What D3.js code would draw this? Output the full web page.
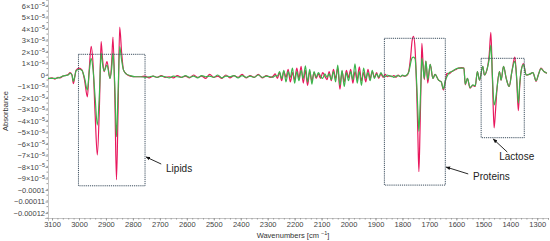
<!DOCTYPE html>
<html>
<head>
<meta charset="utf-8">
<script src="https://cdn.jsdelivr.net/npm/d3@7"></script>
<style>
  body { margin: 0; background: #fff; }
  svg { display: block; font-family: "Liberation Sans", Arial, sans-serif; }
</style>
</head>
<body>
<div id="chart"></div>
<script>
// absorbance values are in units of 1e-5
const wnLipids = [3115, 3100, 3089, 3078, 3070, 3060, 3052, 3040, 3033, 3026, 3021, 3016, 3011, 3000, 2989, 2979, 2969, 2962, 2955, 2948, 2940, 2932, 2924, 2918, 2913, 2907, 2896, 2885, 2879, 2874, 2867, 2861, 2855, 2849, 2842, 2835, 2825, 2810, 2790];
const redLipids = [-0.35, -0.25, -0.35, -0.2, -0.25, -0.1, -0.05, 0.05, 0.2, 0.0, -0.75, -0.2, 0.4, 0.6, 0.45, -0.5, -1.9, 0.5, 2.5, 1.0, -3.5, -6.95, -2.5, 2.9, 1.5, 0.3, 1.17, -0.3, 1.0, 3.3, -2.0, -9.1, -3.0, 4.16, 2.0, 0.45, 0.1, -0.1, -0.15];
const greenLipids = [-0.3, -0.3, -0.3, -0.25, -0.2, -0.1, -0.05, 0.0, 0.15, 0.0, -0.55, -0.15, 0.35, 0.5, 0.4, -0.3, -1.3, 0.3, 1.45, 0.5, -2.0, -4.35, -1.5, 1.9, 1.0, 0.35, 0.87, -0.3, 0.5, 1.9, -1.0, -5.36, -1.5, 2.48, 1.3, 0.45, 0.1, -0.05, -0.15];

const wnFlat = [2770, 2755, 2740, 2725, 2710, 2695, 2680, 2665, 2650, 2635, 2620, 2605, 2590, 2575, 2560, 2545, 2530, 2515, 2500, 2485, 2470, 2455, 2440, 2425, 2410, 2395, 2380, 2365, 2350, 2335, 2320, 2305, 2290];
const redFlat = [-0.15, -0.1, -0.25, -0.1, -0.2, -0.05, -0.2, -0.15, -0.25, -0.05, -0.2, -0.1, -0.25, 0.0, -0.2, -0.1, -0.3, 0.05, -0.2, -0.1, -0.3, 0.0, -0.25, -0.05, -0.2, 0.05, -0.25, -0.05, -0.2, 0.05, -0.25, -0.05, -0.2];
const greenFlat = [-0.15, -0.2, -0.15, -0.1, -0.2, -0.1, -0.15, -0.25, -0.1, -0.15, -0.2, -0.05, -0.2, -0.1, -0.25, -0.05, -0.15, -0.1, -0.2, 0.0, -0.25, -0.1, -0.15, -0.05, -0.25, -0.05, -0.2, -0.1, -0.2, 0.0, -0.2, -0.1, -0.15];

const wnNoise = [2280, 2272, 2264, 2256, 2248, 2240, 2232, 2224, 2216, 2208, 2200, 2192, 2184, 2176, 2168, 2160, 2152, 2144, 2136, 2128, 2120, 2112, 2104, 2096, 2088, 2080, 2072, 2064, 2056, 2048, 2040, 2032, 2024, 2016, 2008, 2000, 1992, 1984, 1976, 1968, 1960, 1952, 1944, 1936, 1928, 1920, 1912, 1904, 1896, 1888, 1880, 1872, 1864, 1856, 1848];
const redNoise = [-0.1, 0.1, -0.3, 0.2, -0.5, 0.3, -0.2, 0.5, -0.6, 0.2, -0.4, 0.6, -0.3, 0.75, -0.7, 0.4, -0.9, 0.3, -0.5, 0.2, -0.3, 0.1, -0.3, 0.2, -0.1, -0.4, 0.3, -0.5, 0.5, -0.3, 0.6, -1.23, 0.3, -0.6, 0.4, -0.2, 0.5, -0.7, 0.3, -0.4, 0.7, -0.5, 0.2, -0.6, 0.5, -0.3, 0.3, -0.2, 0.2, -0.3, 0.1, -0.2, 0.05, -0.15, -0.05];
const greenNoise = [-0.2, -0.05, -0.1, 0.3, -0.3, 0.4, -0.6, 0.3, -0.2, 0.6, -0.7, 0.3, -0.5, 0.4, -0.3, 0.8, -0.6, 0.5, -0.8, 0.3, -0.2, 0.2, -0.1, -0.3, 0.1, -0.2, 0.1, -0.4, 0.3, -0.6, 0.87, -0.9, 0.4, -1.0, 0.2, -0.5, 0.3, -0.4, 0.98, -0.7, 0.3, -0.9, 0.6, -0.3, 0.2, -0.5, 0.4, -0.3, 0.1, -0.2, 0.2, -0.1, -0.15, 0.0, -0.1];

const wnProteins = [1840, 1832, 1824, 1816, 1808, 1800, 1792, 1782, 1776, 1770, 1764, 1759, 1753, 1747, 1743, 1739, 1735, 1731, 1728, 1724, 1719, 1713, 1706, 1697, 1687, 1679, 1666, 1656, 1648, 1641, 1635, 1627, 1617, 1604, 1592, 1580];
const redProteins = [-0.15, -0.05, -0.2, 0.0, -0.15, -0.05, -0.1, 0.0, 0.4, 1.5, 3.0, 3.35, 2.2, -1.5, -5.0, -8.4, -5.0, -0.5, 2.75, 1.2, -0.4, 1.2, -0.7, 0.93, -0.3, 0.05, -0.45, -0.6, -1.3, -0.6, 0.15, 0.1, 0.3, 0.45, 0.6, 0.65];
const greenProteins = [-0.1, -0.2, -0.1, -0.05, -0.15, 0.0, -0.1, 0.05, 0.3, 1.0, 1.5, 1.55, 1.4, -0.8, -3.0, -4.9, -3.0, -0.3, 1.45, 0.8, -0.3, 1.2, -0.4, 0.93, -0.3, 0.05, -0.45, -0.6, -1.2, -0.5, -0.15, 0.2, 0.3, 0.5, 0.6, 0.6];

const wnLactose = [1572, 1567, 1559, 1549, 1539, 1530, 1522, 1514, 1502, 1496, 1485, 1478, 1472, 1466, 1460, 1455, 1450, 1440, 1434, 1425, 1415, 1404, 1394, 1383, 1376, 1370, 1365, 1360, 1351, 1341, 1330, 1316, 1304, 1296, 1286, 1275, 1264];
const redLactose = [0.6, -0.85, -0.3, -1.15, -0.9, -1.0, 0.3, -0.45, 0.75, 0.0, 0.6, 1.8, 3.7, -0.5, -4.6, -3.2, -1.45, 0.3, -0.45, 0.75, -0.3, -1.0, 0.3, 1.55, -0.5, -3.1, -1.0, 0.3, 1.0, 0.0, 0.05, 0.2, -0.55, 0.0, 0.6, 0.3, 0.15];
const greenLactose = [0.6, -0.8, -0.3, -1.1, -0.85, -0.95, 0.3, -0.45, 0.75, 0.0, 0.6, 1.4, 2.6, -0.2, -2.6, -2.2, -1.3, 0.3, -0.45, 0.75, -0.3, -1.0, 0.3, 1.2, -0.3, -2.45, -0.8, 0.3, 0.9, 0.0, 0.05, 0.2, -0.5, 0.0, 0.55, 0.3, 0.15];

const xTicks = [3100, 3000, 2900, 2800, 2700, 2600, 2500, 2400, 2300, 2200, 2100, 2000, 1900, 1800, 1700, 1600, 1500, 1400, 1300];
const yTicks = [6, 5, 4, 3, 2, 1, 0, -1, -2, -3, -4, -5, -6, -7, -8, -9, -10, -11, -12];
const yTickLabels = ["6", "5", "4", "3", "2", "1", "0", "−1", "−2", "−3", "−4", "−5", "−6", "−7", "−8", "−9", "−0.0001", "−0.00011", "−0.00012"];

// boxes: wavenumber range, absorbance range, label + arrow (tail -> tip)
const regions = [
  { name: "Lipids", wn: [3002, 2755], ab: [1.8, -9.63], tail: [2695, -7.74], tip: [2751, -7.13], label: [2677, -8.43] },
  { name: "Proteins", wn: [1867, 1641], ab: [3.19, -9.57], tail: [1556, -8.6], tip: [1638, -8.0], label: [1538, -9.13] },
  { name: "Lactose", wn: [1508, 1348], ab: [1.45, -5.45], tail: [1411, -6.7], tip: [1463, -5.57], label: [1441, -7.39] }
];

const wavenumbers = [].concat(wnLipids, wnFlat, wnNoise, wnProteins, wnLactose);
const redValues = [].concat(redLipids, redFlat, redNoise, redProteins, redLactose);
const greenValues = [].concat(greenLipids, greenFlat, greenNoise, greenProteins, greenLactose);

const width = 550, height = 241;

const svg = d3.select("#chart").append("svg")
    .attr("width", width)
    .attr("height", height);

const x = d3.scaleLinear().domain([3115, 1260]).range([48, 548]);
const y = d3.scaleLinear().domain([-12.43, 6.52]).range([218, 0]);

// x axis
const xAxis = svg.append("g")
    .attr("transform", `translate(0,${y.range()[0]})`)
    .call(d3.axisBottom(x).tickValues(xTicks).tickSize(2.5).tickFormat(d3.format("d")));
svg.append("g")
    .attr("transform", `translate(0,${y.range()[0]})`)
    .call(d3.axisBottom(x).ticks(90).tickSize(1.5).tickFormat(""))
    .select(".domain").remove();

// y axis
const yAxis = svg.append("g")
    .attr("transform", `translate(${x.range()[0]},0)`)
    .call(d3.axisLeft(y).tickValues(yTicks).tickSize(2.5).tickFormat(""));
svg.append("g")
    .attr("transform", `translate(${x.range()[0]},0)`)
    .call(d3.axisLeft(y).tickValues(d3.range(-12.4, 6.5, 0.5)).tickSize(1.5).tickFormat(""))
    .select(".domain").remove();

svg.selectAll(".domain").attr("stroke", "#8a8a8a").attr("stroke-dasharray", "1,1");
svg.selectAll(".tick line").attr("stroke", "#9a9a9a");

xAxis.selectAll("text")
    .attr("fill", "#444")
    .attr("font-size", 7.5)
    .attr("y", 4);

yAxis.selectAll(".tick").each(function (d, i) {
    const t = d3.select(this).append("text")
        .attr("x", -3)
        .attr("dy", "0.32em")
        .attr("text-anchor", "end")
        .attr("fill", "#444")
        .attr("font-size", 7.5);
    const label = yTickLabels[i];
    if (d === 0 || d <= -10) {
        t.text(label);
    } else {
        t.append("tspan").text(label + "×10");
        t.append("tspan").attr("font-size", 5.5).attr("dy", "-0.5em").text("−5");
    }
});

// axis titles
svg.append("text")
    .attr("transform", "translate(8,111) rotate(-90)")
    .attr("text-anchor", "middle")
    .attr("font-size", 7.5)
    .attr("fill", "#333")
    .text("Absorbance");

const xTitle = svg.append("text")
    .attr("x", 293)
    .attr("y", 237.5)
    .attr("text-anchor", "middle")
    .attr("font-size", 7.5)
    .attr("fill", "#333");
xTitle.append("tspan").text("Wavenumbers [cm ");
xTitle.append("tspan").attr("font-size", 5.5).attr("dy", "-0.45em").text("−1");
xTitle.append("tspan").attr("dy", "0.35em").text("]");

// spectra
const line = d3.line()
    .x(d => x(d[0]))
    .y(d => y(d[1]))
    .curve(d3.curveMonotoneX);

const series = [
    { name: "red", color: "#e8175d", values: redValues },
    { name: "green", color: "#3cb44b", values: greenValues }
];

svg.selectAll(".spectrum")
    .data(series)
    .enter().append("path")
    .attr("class", "spectrum")
    .attr("fill", "none")
    .attr("stroke", d => d.color)
    .attr("stroke-width", 1.2)
    .attr("stroke-linejoin", "round")
    .attr("d", d => line(wavenumbers.map((w, i) => [w, d.values[i]])));

// annotation boxes
svg.append("defs").append("marker")
    .attr("id", "arrow")
    .attr("viewBox", "0 0 10 10")
    .attr("refX", 9)
    .attr("refY", 5)
    .attr("markerWidth", 5)
    .attr("markerHeight", 5)
    .attr("orient", "auto")
    .append("path")
    .attr("d", "M0,1 L10,5 L0,9 Z")
    .attr("fill", "#111");

svg.selectAll(".region")
    .data(regions)
    .enter().append("rect")
    .attr("class", "region")
    .attr("x", d => x(d.wn[0]))
    .attr("y", d => y(d.ab[0]))
    .attr("width", d => x(d.wn[1]) - x(d.wn[0]))
    .attr("height", d => y(d.ab[1]) - y(d.ab[0]))
    .attr("fill", "none")
    .attr("stroke", "#3e5060")
    .attr("stroke-width", 1)
    .attr("stroke-dasharray", "1.2,0.9");

svg.selectAll(".region-arrow")
    .data(regions)
    .enter().append("line")
    .attr("class", "region-arrow")
    .attr("x1", d => x(d.tail[0]))
    .attr("y1", d => y(d.tail[1]))
    .attr("x2", d => x(d.tip[0]))
    .attr("y2", d => y(d.tip[1]))
    .attr("stroke", "#111")
    .attr("stroke-width", 0.9)
    .attr("marker-end", "url(#arrow)");

svg.selectAll(".region-label")
    .data(regions)
    .enter().append("text")
    .attr("class", "region-label")
    .attr("x", d => x(d.label[0]))
    .attr("y", d => y(d.label[1]))
    .attr("font-size", 10)
    .attr("fill", "#222")
    .text(d => d.name);
</script>
</body>
</html>
